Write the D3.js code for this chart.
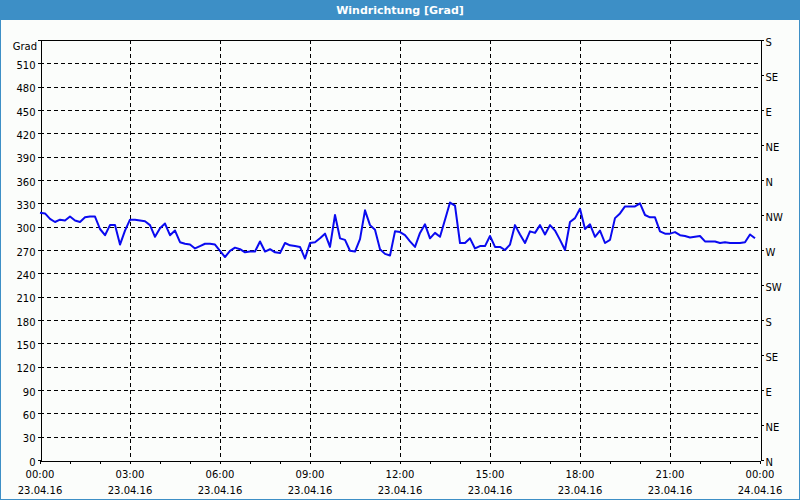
<!DOCTYPE html>
<html>
<head>
<meta charset="utf-8">
<script src="https://cdn.jsdelivr.net/npm/d3@7"></script>
<style>
  body { margin: 0; background: #fbfdfb; }
  svg { display: block; font-family: Tahoma, "DejaVu Sans", sans-serif; }
</style>
</head>
<body>
<div id="chart"></div>
<script>
// chart title and axis captions
const title = 'Windrichtung [Grad]';
const yUnit = 'Grad';

// left axis ticks (degrees) and right axis compass labels
const degreeTicks = [0, 30, 60, 90, 120, 150, 180, 210, 240, 270, 300, 330, 360, 390, 420, 450, 480, 510, 540];
const compassTicks = [0, 45, 90, 135, 180, 225, 270, 315, 360, 405, 450, 495, 540];
const compassLabels = ['N', 'NE', 'E', 'SE', 'S', 'SW', 'W', 'NW', 'N', 'NE', 'E', 'SE', 'S'];

// time span and 10 minute samples of wind direction
const startTime = new Date(2016, 3, 23, 0, 0);
const endTime = new Date(2016, 3, 24, 0, 0);
const sampleMinutes = 10;
const direction = [
  318, 317, 310, 306, 309, 308, 313, 308, 306, 312, 313, 313,
  297, 289, 302, 302, 277, 295, 309, 309, 308, 307, 302, 287,
  298, 304, 289, 295, 280, 278, 277, 272, 275, 278, 278, 277,
  269, 261, 269, 273, 271, 267, 268, 268, 281, 268, 271, 267,
  266, 279, 276, 275, 274, 259, 279, 280, 285, 291, 274, 315,
  285, 283, 269, 268, 284, 321, 302, 296, 271, 265, 263, 294,
  293, 289, 281, 274, 292, 303, 285, 292, 287, 309, 331, 327,
  279, 279, 285, 272, 275, 275, 288, 274, 274, 270, 277, 302,
  290, 279, 294, 292, 302, 290, 302, 295, 283, 270, 306, 311,
  323, 297, 303, 287, 295, 279, 283, 311, 317, 326, 326, 326,
  330, 315, 312, 312, 294, 291, 291, 293, 289, 288, 286, 287,
  288, 281, 281, 281, 279, 280, 279, 279, 279, 280, 290, 285
];

const width = 800;
const height = 500;
const margin = { top: 40, right: 40, bottom: 40, left: 40 };

const points = direction.map((v, i) => ({
  time: d3.timeMinute.offset(startTime, i * sampleMinutes),
  value: v
}));

const svg = d3.select('#chart')
  .append('svg')
  .attr('width', width)
  .attr('height', height);

// background and frame
svg.append('rect')
  .attr('x', 0.5).attr('y', 0.5)
  .attr('width', width - 1).attr('height', height - 1)
  .attr('fill', '#fbfdfb')
  .attr('stroke', '#3d8fc6');

// title bar
svg.append('rect')
  .attr('x', 0).attr('y', 0)
  .attr('width', width).attr('height', 20)
  .attr('fill', '#3d8fc6');

svg.append('text')
  .attr('x', width / 2).attr('y', 14)
  .attr('text-anchor', 'middle')
  .attr('fill', '#fff')
  .attr('font-size', 11)
  .attr('font-weight', 'bold')
  .text(title);

const x = d3.scaleTime()
  .domain([startTime, endTime])
  .range([margin.left, width - margin.right]);

const y = d3.scaleLinear()
  .domain([0, 540])
  .range([height - margin.bottom, margin.top]);

// dashed grid
const grid = svg.append('g')
  .attr('stroke', '#000')
  .attr('stroke-dasharray', '4,3')
  .attr('shape-rendering', 'crispEdges');

grid.selectAll('.hgrid')
  .data(degreeTicks.filter(d => d > 0 && d < 540))
  .enter().append('line')
  .attr('x1', margin.left).attr('x2', width - margin.right)
  .attr('y1', d => Math.round(y(d)) + 0.5)
  .attr('y2', d => Math.round(y(d)) + 0.5);

grid.selectAll('.vgrid')
  .data(x.ticks(d3.timeHour.every(3)).slice(1, -1))
  .enter().append('line')
  .attr('y1', margin.top).attr('y2', height - margin.bottom)
  .attr('x1', d => Math.round(x(d)) + 0.5)
  .attr('x2', d => Math.round(x(d)) + 0.5);

// left axis
const yAxis = svg.append('g')
  .attr('transform', `translate(${margin.left + 0.5},0)`)
  .call(d3.axisLeft(y).tickValues(degreeTicks.slice(0, -1)).tickSize(3).tickPadding(2));

// right axis with compass points
const yAxisRight = svg.append('g')
  .attr('transform', `translate(${width - margin.right + 0.5},0)`)
  .call(d3.axisRight(y).tickValues(compassTicks)
    .tickFormat((d, i) => compassLabels[i]).tickSize(3).tickPadding(2));

// bottom axis: hourly ticks, labels every 3 hours
const xAxis = svg.append('g')
  .attr('transform', `translate(0,${height - margin.bottom + 0.5})`)
  .call(d3.axisBottom(x).ticks(d3.timeHour.every(1)).tickSize(3).tickFormat(''));

const labelTimes = x.ticks(d3.timeHour.every(3));
const xLabels = svg.append('g')
  .attr('font-size', 10)
  .attr('text-anchor', 'middle')
  .attr('fill', '#000');

xLabels.selectAll('.time')
  .data(labelTimes)
  .enter().append('text')
  .attr('x', d => x(d))
  .attr('y', 478)
  .text(d3.timeFormat('%H:%M'));

xLabels.selectAll('.date')
  .data(labelTimes)
  .enter().append('text')
  .attr('x', d => x(d))
  .attr('y', 494)
  .text(d3.timeFormat('%d.%m.%y'));

[yAxis, yAxisRight, xAxis].forEach(g => {
  g.select('.domain').attr('stroke', '#000').attr('shape-rendering', 'crispEdges');
  g.selectAll('.tick line').attr('stroke', '#000').attr('shape-rendering', 'crispEdges');
  g.selectAll('text').attr('font-size', 10).attr('font-family', 'Tahoma, "DejaVu Sans", sans-serif').attr('fill', '#000');
});
// labels sit a little lower than the ticks in the reference
yAxis.selectAll('.tick text').attr('dy', '0.5em');
yAxisRight.selectAll('.tick text').attr('dy', '0.55em');

// top border of plot area
svg.append('line')
  .attr('x1', margin.left).attr('x2', width - margin.right + 1)
  .attr('y1', margin.top + 0.5).attr('y2', margin.top + 0.5)
  .attr('stroke', '#000')
  .attr('shape-rendering', 'crispEdges');

// unit caption
svg.append('text')
  .attr('x', 37).attr('y', 50)
  .attr('text-anchor', 'end')
  .attr('font-size', 10)
  .text(yUnit);

// wind direction line
const line = d3.line()
  .x(d => x(d.time))
  .y(d => y(d.value));

svg.append('path')
  .datum(points)
  .attr('fill', 'none')
  .attr('stroke', '#0a0af0')
  .attr('stroke-width', 2)
  .attr('stroke-linejoin', 'round')
  .attr('d', line);
</script>
</body>
</html>
